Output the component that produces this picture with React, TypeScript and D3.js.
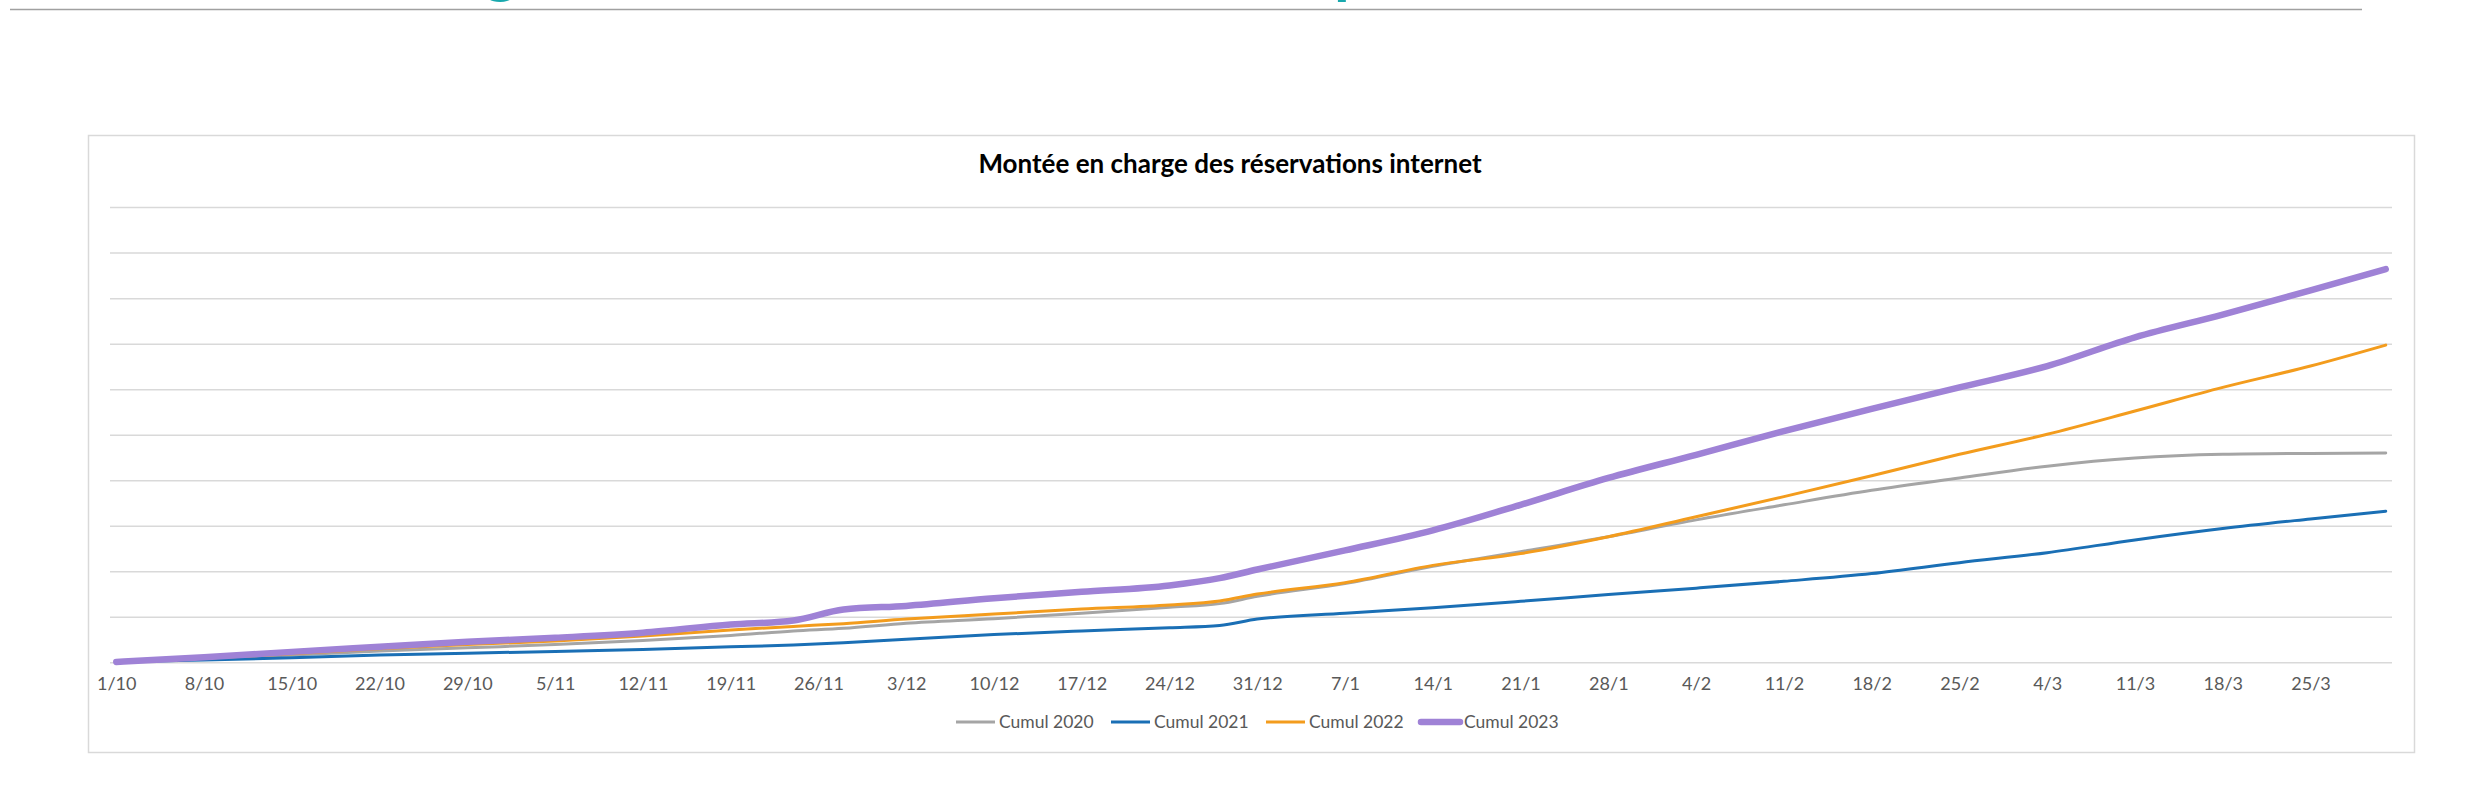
import React, { useEffect, useRef } from "react";
import * as d3 from "d3";

// day index from 1/10 (0) to 31/3 (181)
const days = [0, 7, 14, 21, 28, 35, 42, 49, 54, 58, 63, 70, 77, 84, 88, 91, 98, 105, 112, 119, 126, 133, 140, 147, 154, 161, 168, 175, 181];

// cumulative bookings (1 grid step = 1000)
const cumul2020 = [20, 90, 170, 260, 330, 400, 490, 600, 700, 760, 870, 970, 1090, 1220, 1300, 1460, 1740, 2120, 2440, 2770, 3140, 3470, 3790, 4060, 4320, 4500, 4580, 4600, 4610];
const cumul2021 = [20, 60, 110, 170, 210, 250, 290, 350, 390, 440, 520, 620, 700, 770, 820, 960, 1090, 1210, 1350, 1500, 1640, 1790, 1960, 2200, 2420, 2700, 2950, 3160, 3330];
const cumul2022 = [20, 100, 200, 310, 400, 480, 590, 720, 800, 860, 960, 1070, 1180, 1270, 1360, 1510, 1760, 2140, 2400, 2770, 3210, 3650, 4110, 4580, 5020, 5530, 6050, 6520, 6980];
const cumul2023 = [20, 120, 240, 350, 460, 550, 660, 840, 930, 1170, 1250, 1420, 1560, 1700, 1860, 2050, 2470, 2910, 3470, 4060, 4570, 5090, 5580, 6050, 6520, 7150, 7650, 8180, 8650];

const seriesNames = ["Cumul 2020", "Cumul 2021", "Cumul 2022", "Cumul 2023"];
const seriesColors = ["#a5a5a5", "#1a6fb5", "#f39c1d", "#9f82d6"];
const seriesWidths = [3, 3, 3, 6.5];

const tickLabels = ["1/10", "8/10", "15/10", "22/10", "29/10", "5/11", "12/11", "19/11", "26/11", "3/12", "10/12", "17/12", "24/12", "31/12", "7/1", "14/1", "21/1", "28/1", "4/2", "11/2", "18/2", "25/2", "4/3", "11/3", "18/3", "25/3"];
const tickDays = tickLabels.map((_, i) => i * 7);

const title = "Montée en charge des réservations internet";
const FONT = "Lato, 'Open Sans', sans-serif";

const W = 2492;
const H = 788;

export default function App() {
  const ref = useRef<SVGSVGElement | null>(null);

  useEffect(() => {
    const svg = d3.select(ref.current);
    svg.selectAll("*").remove();

    const plot = { left: 110, right: 2392, top: 207.6, bottom: 662.8 };

    // categories drawn "between tick marks": 182 days, point at centre of each
    const x = d3.scaleLinear().domain([-0.5, 181.5]).range([plot.left, plot.right]);
    const y = d3.scaleLinear().domain([0, 10000]).range([plot.bottom, plot.top]);

    // page header remnants (heading cut off by the top edge)
    svg.append("line")
      .attr("x1", 10).attr("x2", 2362).attr("y1", 9.5).attr("y2", 9.5)
      .attr("stroke", "#a0a0a0").attr("stroke-width", 1.5);
    svg.append("text")
      .attr("x", 484).attr("y", -9)
      .attr("font-family", FONT).attr("font-size", 64).attr("font-weight", 700)
      .attr("fill", "#19a9ae").text("g");
    svg.append("text")
      .attr("x", 1334).attr("y", -8)
      .attr("font-family", FONT).attr("font-size", 64).attr("font-weight", 700)
      .attr("fill", "#19a9ae").text("p");

    // chart frame
    svg.append("rect")
      .attr("x", 88.5).attr("y", 135.5).attr("width", 2326).attr("height", 617)
      .attr("fill", "#ffffff").attr("stroke", "#d9d9d9").attr("stroke-width", 1.5);

    svg.append("text")
      .attr("x", 1230).attr("y", 173)
      .attr("text-anchor", "middle")
      .attr("font-family", FONT).attr("font-size", 26).attr("font-weight", 700)
      .attr("fill", "#000000")
      .text(title);

    // gridlines
    svg.append("g")
      .selectAll("line")
      .data(y.ticks(10))
      .join("line")
      .attr("x1", plot.left).attr("x2", plot.right)
      .attr("y1", (d) => y(d)).attr("y2", (d) => y(d))
      .attr("stroke", "#d9d9d9").attr("stroke-width", 1.5);

    // x axis labels
    const xAxis = d3.axisBottom(x)
      .tickValues(tickDays)
      .tickFormat((_, i) => tickLabels[i])
      .tickSize(0)
      .tickPadding(14);
    const gx = svg.append("g")
      .attr("transform", `translate(0,${plot.bottom})`)
      .call(xAxis);
    gx.select(".domain").remove();
    gx.selectAll("text")
      .attr("font-family", FONT).attr("font-size", 18)
      .attr("fill", "#595959");

    // series
    const allSeries = [cumul2020, cumul2021, cumul2022, cumul2023];
    const line = d3.line<number>()
      .x((_, i) => x(days[i]))
      .y((d) => y(d))
      .curve(d3.curveMonotoneX);

    allSeries.forEach((vals, k) => {
      svg.append("path")
        .datum(vals)
        .attr("fill", "none")
        .attr("stroke", seriesColors[k])
        .attr("stroke-width", seriesWidths[k])
        .attr("stroke-linejoin", "round")
        .attr("stroke-linecap", "round")
        .attr("d", line);
    });

    // legend
    const step = 155;
    const legendStart = 956;
    const lg = svg.append("g").attr("transform", "translate(0,722)");
    seriesNames.forEach((name, k) => {
      const x0 = legendStart + k * step;
      lg.append("line")
        .attr("x1", x0).attr("x2", x0 + 39).attr("y1", 0).attr("y2", 0)
        .attr("stroke", seriesColors[k]).attr("stroke-width", seriesWidths[k])
        .attr("stroke-linecap", k === 3 ? "round" : "butt");
      lg.append("text")
        .attr("x", x0 + 43).attr("y", 6)
        .attr("font-family", FONT).attr("font-size", 17.5)
        .attr("fill", "#595959")
        .text(name);
    });
  }, []);

  return (
    <svg
      ref={ref}
      width={W}
      height={H}
      style={{ position: "absolute", left: 0, top: 0, background: "#ffffff" }}
    />
  );
}
